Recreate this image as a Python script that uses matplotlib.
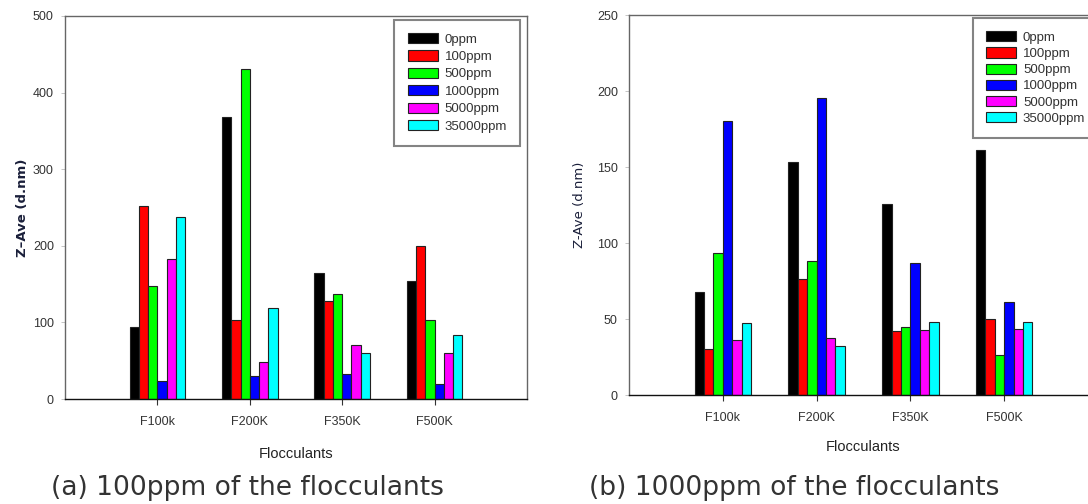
import matplotlib
matplotlib.use("Agg")
import matplotlib.pyplot as plt
import numpy as np

categories = ["F100k", "F200K", "F350K", "F500K"]
series_labels = ["0ppm", "100ppm", "500ppm", "1000ppm", "5000ppm", "35000ppm"]
colors = ["#000000", "#ff0000", "#00ff00", "#0000ff", "#ff00ff", "#00ffff"]

# panel (a): 100ppm of the flocculants, one list per series (values per category)
a_0ppm = [94, 368, 165, 154]
a_100ppm = [252, 103, 128, 200]
a_500ppm = [148, 431, 137, 103]
a_1000ppm = [24, 30, 33, 19]
a_5000ppm = [183, 48, 70, 60]
a_35000ppm = [237, 119, 60, 84]

# panel (b): 1000ppm of the flocculants
b_0ppm = [67.5, 153.5, 125.5, 161]
b_100ppm = [30.5, 76, 42, 50]
b_500ppm = [93.5, 88, 45, 26.5]
b_1000ppm = [180, 195.5, 87, 61]
b_5000ppm = [36.5, 37.5, 43, 43.5]
b_35000ppm = [47.5, 32, 48, 48]

a_data = [a_0ppm, a_100ppm, a_500ppm, a_1000ppm, a_5000ppm, a_35000ppm]
b_data = [b_0ppm, b_100ppm, b_500ppm, b_1000ppm, b_5000ppm, b_35000ppm]

W, H = 1088, 504
fig = plt.figure(figsize=(W / 100, H / 100), dpi=100)
fig.patch.set_facecolor("white")

tick_font = ["Liberation Sans", "DejaVu Sans"]
leg_font = ["Liberation Sans Narrow", "Liberation Sans", "DejaVu Sans"]


def px_axes(x0, y0, x1, y1):
    return fig.add_axes([x0 / W, 1 - y1 / H, (x1 - x0) / W, (y1 - y0) / H])


def draw(ax, data, ymax, ystep, ylabel, ylabel_bold, ylabelpad, xlabelpad, leg_ls, leg_kw):
    x = np.arange(1, len(categories) + 1)
    n = len(data)
    bw = 0.1
    for i, (vals, c, lab) in enumerate(zip(data, colors, series_labels)):
        ax.bar(x + (i - (n - 1) / 2) * bw, vals, width=bw, color=c,
               edgecolor="#222222", linewidth=0.8, label=lab)
    ax.set_xlim(0, 5)
    ax.set_ylim(0, ymax)
    ax.set_xticks(x)
    ax.set_xticklabels(categories, fontfamily=tick_font, fontsize=9, color="#333333")
    ax.set_yticks(np.arange(0, ymax + 1, ystep))
    ax.set_yticklabels([str(v) for v in np.arange(0, ymax + 1, ystep)],
                       fontfamily=tick_font, fontsize=9, color="#333333")
    ax.tick_params(axis="x", length=4, width=0.8, color="#333333", pad=8)
    ax.tick_params(axis="y", length=3, width=0.6, color="#bbbbbb", pad=5)
    for s in ["left", "top", "right"]:
        ax.spines[s].set_color("#666666")
        ax.spines[s].set_linewidth(1.0)
    ax.spines["bottom"].set_color("#111111")
    ax.spines["bottom"].set_linewidth(1.0)
    ax.set_xlabel("Flocculants", fontfamily=tick_font, fontsize=10.5, color="#222222",
                  labelpad=xlabelpad)
    ax.set_ylabel(ylabel, fontfamily=["DejaVu Sans"], fontsize=9.5,
                  fontweight="bold" if ylabel_bold else "normal",
                  color="#1a1f3a", labelpad=ylabelpad)
    leg = ax.legend(prop={"family": leg_font, "size": 9.5}, frameon=True, fancybox=False,
                    edgecolor="#666666", handlelength=2.3, handleheight=0.8,
                    handletextpad=0.5, labelspacing=leg_ls, borderpad=1.0,
                    borderaxespad=0.0, **leg_kw)
    leg.get_frame().set_linewidth(1.5)
    for t in leg.get_texts():
        t.set_color("#333333")
    return ax


ax1 = px_axes(65, 16, 527, 399)
draw(ax1, a_data, 500, 100, "Z\u2013Ave (d.nm)", True, 3, 14, 0.36,
     dict(loc="upper right", bbox_to_anchor=(0.985, 0.99)))

ax2 = px_axes(629, 15, 1098, 395)
draw(ax2, b_data, 250, 50, "Z-Ave (d.nm)", False, 8, 12, 0.27,
     dict(loc="upper left", bbox_to_anchor=(0.733, 0.992)))

fig.text(247 / W, 1 - 488 / H, "(a) 100ppm of the flocculants", ha="center", va="center",
         fontfamily=["DejaVu Sans"], fontsize=19.1, color="#333333")
fig.text(794 / W, 1 - 488 / H, "(b) 1000ppm of the flocculants", ha="center", va="center",
         fontfamily=["DejaVu Sans"], fontsize=19.1, color="#333333")

fig.savefig("out.png", dpi=100, facecolor="white")
